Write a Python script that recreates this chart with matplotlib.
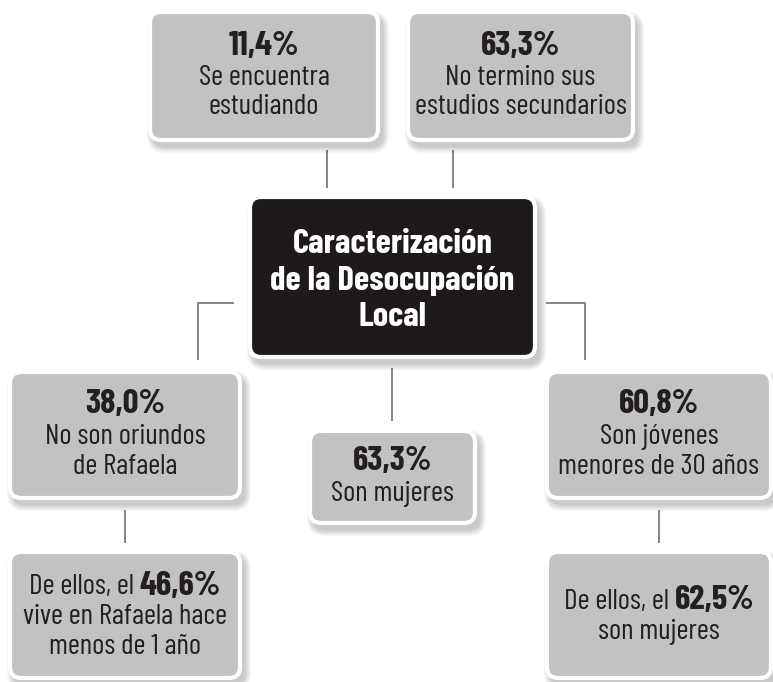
import matplotlib
matplotlib.use("Agg")
import matplotlib.pyplot as plt
from matplotlib.patches import FancyBboxPatch

plt.rcParams['font.family'] = ['Barlow Condensed', 'DejaVu Sans']

# data
title_lines = ["Caracterización", "de la Desocupación", "Local"]
box_names = ["estudiando", "secundario", "oriundos", "mujeres", "jovenes",
             "recientes", "jovenes_mujeres"]
percents = ["11,4%", "63,3%", "38,0%", "63,3%", "60,8%", "46,6%", "62,5%"]
prefixes = ["", "", "", "", "", "De ellos, el ", "De ellos, el "]
descriptions = [
    ["Se encuentra", "estudiando"],
    ["No termino sus", "estudios secundarios"],
    ["No son oriundos", "de Rafaela"],
    ["Son mujeres"],
    ["Son jóvenes", "menores de 30 años"],
    ["vive en Rafaela hace", "menos de 1 año"],
    ["son mujeres"],
]

# layout in pixels (x0, y0, x1, y1)
boxes = {
    "estudiando": (150, 12, 378, 140),
    "secundario": (408, 12, 633, 140),
    "oriundos": (10, 372, 240, 498),
    "mujeres": (310, 431, 475, 523),
    "jovenes": (547, 372, 771, 498),
    "recientes": (10, 552, 240, 678),
    "jovenes_mujeres": (547, 552, 771, 678),
}
center_box = (250, 197, 535, 357)
connectors = [
    [(327, 150), (327, 188)],
    [(453, 150), (453, 188)],
    [(234, 303), (198, 303), (198, 360)],
    [(546, 303), (585, 303), (585, 360)],
    [(392, 368), (392, 421)],
    [(125, 510), (125, 543)],
    [(659, 510), (659, 543)],
]

W, H = 773, 682
fig = plt.figure(figsize=(W / 100, H / 100), dpi=100)
ax = fig.add_axes([0, 0, 1, 1])
ax.set_xlim(0, W)
ax.set_ylim(H, 0)
ax.axis('off')

box_gray = '#c2c2c2'
text_dark = '#231f20'
fs_text = 21
fs_pct = 25


def draw_box(x0, y0, x1, y1, face):
    # soft blurred shadow down-right
    for k in range(7):
        g = 14 - 2 * k
        sh = FancyBboxPatch((x0 + 4 - g / 2, y0 + 6 - g / 2), x1 - x0 + g, y1 - y0 + g,
                            boxstyle="round,pad=0,rounding_size=%d" % (11 + g / 2),
                            fc='black', ec='none', alpha=0.03, zorder=1)
        ax.add_patch(sh)
    p = FancyBboxPatch((x0, y0), x1 - x0, y1 - y0,
                       boxstyle="round,pad=0,rounding_size=11",
                       fc=face, ec='white', lw=3, zorder=2)
    ax.add_patch(p)


for pts in connectors:
    xs, ys = zip(*pts)
    ax.plot(xs, ys, color='#7a7a7a', lw=1.3, zorder=0, solid_capstyle='butt')

draw_box(*center_box, face='#1f1a1a')
cx = (center_box[0] + center_box[2]) / 2
for i, line in enumerate(title_lines):
    ax.text(cx, 253 + i * 36.5, line, color='white', fontsize=25, fontweight='bold',
            ha='center', va='baseline', zorder=3)

fig.canvas.draw()
renderer = fig.canvas.get_renderer()

spacing = 29.5
for name, pct, pre, desc in zip(box_names, percents, prefixes, descriptions):
    x0, y0, x1, y1 = boxes[name]
    draw_box(x0, y0, x1, y1, face=box_gray)
    bx = (x0 + x1) / 2
    n = len(desc) + 1
    mid = (y0 + y1) / 2
    bases = [mid + (i - (n - 1) / 2) * spacing + 9 for i in range(n)]
    if pre:
        t1 = ax.text(0, bases[0], pre, fontsize=fs_text, color=text_dark,
                     ha='left', va='baseline', zorder=3)
        t2 = ax.text(0, bases[0], pct, fontsize=fs_pct, fontweight='bold', color=text_dark,
                     ha='left', va='baseline', zorder=3)
        w1 = t1.get_window_extent(renderer).width
        w2 = t2.get_window_extent(renderer).width
        start = bx - (w1 + w2) / 2
        t1.set_x(start)
        t2.set_x(start + w1)
    else:
        ax.text(bx, bases[0] - 1, pct, fontsize=fs_pct, fontweight='bold', color=text_dark,
                ha='center', va='baseline', zorder=3)
    for b, line in zip(bases[1:], desc):
        ax.text(bx, b, line, fontsize=fs_text, color=text_dark,
                ha='center', va='baseline', zorder=3)

fig.savefig('out.png', dpi=100, facecolor='white')
